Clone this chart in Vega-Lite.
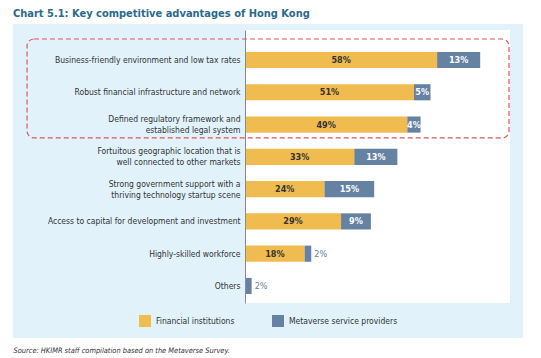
{
  "$schema": "https://vega.github.io/schema/vega-lite/v6.json",
  "width": 265,
  "height": 273,
  "autosize": {"type": "none"},
  "padding": {"left": 245, "top": 30, "right": 31, "bottom": 55},
  "background": "white",
  "view": {"stroke": null},
  "config": {"font": "DejaVu Sans Condensed, sans-serif"},
  "title": {
    "text": "Chart 5.1: Key competitive advantages of Hong Kong",
    "anchor": "start",
    "frame": "group",
    "dx": -232,
    "offset": 5,
    "fontSize": 11,
    "fontWeight": "bold",
    "color": "#2B6A8B",
    "font": "DejaVu Sans Condensed, sans-serif"
  },
  "datasets": {
    "survey": [
      {"category": "Business-friendly environment and low tax rates", "group": "Financial institutions", "value": 58, "order": 1},
      {"category": "Business-friendly environment and low tax rates", "group": "Metaverse service providers", "value": 13, "order": 2},
      {"category": "Robust financial infrastructure and network", "group": "Financial institutions", "value": 51, "order": 1},
      {"category": "Robust financial infrastructure and network", "group": "Metaverse service providers", "value": 5, "order": 2},
      {"category": "Defined regulatory framework and\nestablished legal system", "group": "Financial institutions", "value": 49, "order": 1},
      {"category": "Defined regulatory framework and\nestablished legal system", "group": "Metaverse service providers", "value": 4, "order": 2},
      {"category": "Fortuitous geographic location that is\nwell connected to other markets", "group": "Financial institutions", "value": 33, "order": 1},
      {"category": "Fortuitous geographic location that is\nwell connected to other markets", "group": "Metaverse service providers", "value": 13, "order": 2},
      {"category": "Strong government support with a\nthriving technology startup scene", "group": "Financial institutions", "value": 24, "order": 1},
      {"category": "Strong government support with a\nthriving technology startup scene", "group": "Metaverse service providers", "value": 15, "order": 2},
      {"category": "Access to capital for development and investment", "group": "Financial institutions", "value": 29, "order": 1},
      {"category": "Access to capital for development and investment", "group": "Metaverse service providers", "value": 9, "order": 2},
      {"category": "Highly-skilled workforce", "group": "Financial institutions", "value": 18, "order": 1},
      {"category": "Highly-skilled workforce", "group": "Metaverse service providers", "value": 2, "order": 2},
      {"category": "Others", "group": "Metaverse service providers", "value": 2, "order": 2}
    ],
    "frame": [
      {"first": "Business-friendly environment and low tax rates", "last": "Others", "highlightLast": "Defined regulatory framework and\nestablished legal system"}
    ]
  },
  "encoding": {
    "y": {
      "field": "category",
      "type": "nominal",
      "sort": null,
      "scale": {
        "domain": [
          "Business-friendly environment and low tax rates",
          "Robust financial infrastructure and network",
          "Defined regulatory framework and\nestablished legal system",
          "Fortuitous geographic location that is\nwell connected to other markets",
          "Strong government support with a\nthriving technology startup scene",
          "Access to capital for development and investment",
          "Highly-skilled workforce",
          "Others"
        ],
        "paddingInner": 0.5,
        "paddingOuter": 0.478,
        "align": 0.71
      },
      "axis": {
        "title": null,
        "ticks": false,
        "domain": true,
        "domainColor": "#8a8a8a",
        "domainWidth": 1,
        "labelPadding": 5,
        "labelFontSize": 8.5,
        "labelColor": "#333333",
        "labelLineHeight": 11,
        "labelLimit": 240,
        "labelExpr": "split(datum.label, '\\n')",
        "labelOffset": {"condition": {"test": "indexof(datum.value, '\\n') >= 0", "value": -5.5}, "value": 0},
        "zindex": 1
      }
    }
  },
  "layer": [
    {
      "data": {"name": "frame"},
      "mark": {"type": "rect", "fill": "#E1F2FB", "clip": false},
      "encoding": {
        "x": {"datum": -70, "type": "quantitative"},
        "x2": {"datum": 83.9},
        "y": {"field": "first", "type": "nominal", "bandPosition": -1.73},
        "y2": {"field": "last", "bandPosition": 3.72}
      }
    },
    {
      "data": {"name": "frame"},
      "mark": {"type": "rect", "fill": "white"},
      "encoding": {
        "x": {"datum": 0, "type": "quantitative"},
        "x2": {"datum": 80},
        "y": {"field": "first", "type": "nominal", "bandPosition": -1.359},
        "y2": {"field": "last", "bandPosition": 1.553}
      }
    },
    {
      "data": {"name": "frame"},
      "mark": {"type": "rect", "fill": null, "stroke": "#E8505E", "strokeWidth": 1.2, "strokeDash": [5, 3], "cornerRadius": 7, "clip": false},
      "encoding": {
        "x": {"datum": -65.8, "type": "quantitative"},
        "x2": {"datum": 79.7},
        "y": {"field": "first", "type": "nominal", "bandPosition": -0.8},
        "y2": {"field": "highlightLast", "bandPosition": 1.33}
      }
    },
    {
      "data": {"name": "survey"},
      "mark": {"type": "bar"},
      "encoding": {
        "x": {
          "field": "value",
          "type": "quantitative",
          "stack": "zero",
          "scale": {"domain": [0, 80], "nice": false},
          "axis": {
            "title": "Source: HKIMR staff compilation based on the Metaverse Survey.",
            "labels": false,
            "ticks": false,
            "domain": false,
            "grid": false,
            "titleX": -232,
            "titleY": 47,
            "titleAlign": "left",
            "titleAnchor": null,
            "titleBaseline": "middle",
            "titleFontStyle": "italic",
            "titleFontWeight": "normal",
            "titleFontSize": 7.4,
            "titleColor": "#333333"
          }
        },
        "color": {
          "field": "group",
          "type": "nominal",
          "scale": {"domain": ["Financial institutions", "Metaverse service providers"], "range": ["#F0BB4F", "#6582A2"]},
          "legend": {
            "orient": "none",
            "legendX": -106,
            "legendY": 285,
            "direction": "horizontal",
            "title": null,
            "symbolType": "square",
            "symbolSize": 144,
            "symbolStrokeWidth": 0,
            "symbolOpacity": 1,
            "labelFontSize": 8.5,
            "labelColor": "#333333",
            "labelOffset": 5,
            "columnPadding": 37,
            "padding": 0
          }
        },
        "order": {"field": "order"}
      }
    },
    {
      "data": {"name": "survey"},
      "transform": [
        {"stack": "value", "groupby": ["category"], "sort": [{"field": "order"}], "as": ["v0", "v1"]},
        {"filter": "datum.value > 2"},
        {"fold": ["v0", "v1"], "as": ["edge", "pos"]},
        {"aggregate": [{"op": "mean", "field": "pos", "as": "mid"}], "groupby": ["category", "group", "order", "value"]}
      ],
      "mark": {"type": "text", "fontWeight": "bold", "fontSize": 9, "baseline": "middle", "align": "center", "text": {"expr": "datum.value + '%'"}},
      "encoding": {
        "x": {"field": "mid", "type": "quantitative"},
        "color": {"condition": {"test": "datum.order == 1", "value": "#333333"}, "value": "white"}
      }
    },
    {
      "data": {"name": "survey"},
      "transform": [
        {"stack": "value", "groupby": ["category"], "sort": [{"field": "order"}], "as": ["v0", "v1"]},
        {"filter": "datum.value <= 2"}
      ],
      "mark": {"type": "text", "fontSize": 9, "baseline": "middle", "align": "left", "dx": 3, "color": "#6582A2", "text": {"expr": "datum.value + '%'"}},
      "encoding": {
        "x": {"field": "v1", "type": "quantitative"}
      }
    }
  ]
}
